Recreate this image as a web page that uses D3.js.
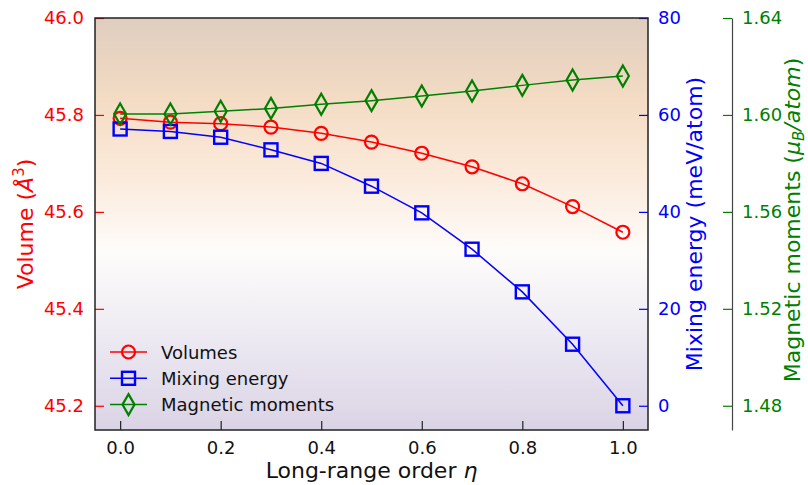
<!DOCTYPE html>
<html>
<head>
<meta charset="utf-8">
<script src="https://cdn.jsdelivr.net/npm/d3@7"></script>
<style>
  body { margin: 0; background: #fff; }
  svg text { font-family: "DejaVu Sans", sans-serif; }
</style>
</head>
<body>
<div id="chart"></div>
<script>
// Long-range order values (x)
const eta = [0.0, 0.1, 0.2, 0.3, 0.4, 0.5, 0.6, 0.7, 0.8, 0.9, 1.0];

// Volume (Å^3), left axis
const volumes = [45.793, 45.785, 45.782, 45.775, 45.762, 45.744, 45.721, 45.693, 45.658, 45.611, 45.558];

// Mixing energy (meV/atom), first right axis
const mixing = [57.1, 56.6, 55.4, 52.8, 50.0, 45.3, 39.8, 32.3, 23.5, 12.7, 0.0];

// Magnetic moments (muB/atom), second right axis
const moments = [1.6004, 1.6004, 1.6015, 1.6027, 1.6044, 1.6059, 1.6078, 1.6099, 1.6122, 1.6144, 1.6161];

const xTicks = [0.0, 0.2, 0.4, 0.6, 0.8, 1.0];
const volTicks = [45.2, 45.4, 45.6, 45.8, 46.0];
const mixTicks = [0, 20, 40, 60, 80];
const momTicks = [1.48, 1.52, 1.56, 1.60, 1.64];

const W = 808, H = 485;
const margin = { top: 18, right: 160, bottom: 55, left: 95 };
const innerW = W - margin.left - margin.right;   // 553
const innerH = H - margin.top - margin.bottom;   // 412

const svg = d3.select("#chart").append("svg")
    .attr("width", W).attr("height", H);

const defs = svg.append("defs");
const grad = defs.append("linearGradient")
    .attr("id", "bg").attr("x1", 0).attr("y1", 0).attr("x2", 0).attr("y2", 1);
[
    [0.00, "#dfcdbf"],
    [0.20, "#f4dcc4"],
    [0.38, "#fbeadb"],
    [0.57, "#fefcfa"],
    [0.76, "#eeebf3"],
    [1.00, "#dad3e5"]
].forEach(([o, c]) => grad.append("stop").attr("offset", o).attr("stop-color", c));

const g = svg.append("g").attr("transform", `translate(${margin.left},${margin.top})`);

g.append("rect").attr("width", innerW).attr("height", innerH).attr("fill", "url(#bg)");

// Scales
const x = d3.scaleLinear().domain([-0.05, 1.05]).range([0, innerW]);
const yVol = d3.scaleLinear().domain([45.15, 46.0]).range([innerH, 0]);
const yMix = d3.scaleLinear().domain([-5, 80]).range([innerH, 0]);
const yMom = d3.scaleLinear().domain([1.47, 1.64]).range([innerH, 0]);

const TICK = 9;
const FS = "18px";     // tick labels / legend
const LFS = "22px";    // axis labels

// X axis (ticks inward)
const xAxis = g.append("g").attr("transform", `translate(0,${innerH})`)
    .call(d3.axisBottom(x).tickValues(xTicks).tickFormat(d3.format(".1f"))
        .tickSizeInner(-TICK).tickSizeOuter(0).tickPadding(11));
xAxis.select(".domain").remove();
xAxis.selectAll("line").attr("stroke", "#222").attr("stroke-width", 1.2);
xAxis.selectAll("text").attr("fill", "#111").style("font-size", FS);

// Left axis: volume (red)
const lAxis = g.append("g")
    .call(d3.axisLeft(yVol).tickValues(volTicks).tickFormat(d3.format(".1f"))
        .tickSizeInner(-TICK).tickSizeOuter(0).tickPadding(11));
lAxis.select(".domain").remove();
lAxis.selectAll("line").attr("stroke", "red").attr("stroke-width", 1.2);
lAxis.selectAll("text").attr("fill", "red").style("font-size", FS);

// Right axis: mixing energy (blue)
const rAxis = g.append("g").attr("transform", `translate(${innerW},0)`)
    .call(d3.axisRight(yMix).tickValues(mixTicks)
        .tickSizeInner(-TICK).tickSizeOuter(0).tickPadding(10));
rAxis.select(".domain").remove();
rAxis.selectAll("line").attr("stroke", "blue").attr("stroke-width", 1.2);
rAxis.selectAll("text").attr("fill", "blue").style("font-size", FS);

// Third axis: magnetic moments (green), offset spine
const mAxis = g.append("g").attr("transform", `translate(${innerW + 84},0)`)
    .call(d3.axisRight(yMom).tickValues(momTicks).tickFormat(d3.format(".2f"))
        .tickSizeInner(-TICK).tickSizeOuter(0).tickPadding(10));
mAxis.select(".domain").attr("stroke", "#444").attr("stroke-width", 1.2);
mAxis.selectAll("line").attr("stroke", "green").attr("stroke-width", 1.2);
mAxis.selectAll("text").attr("fill", "green").style("font-size", FS);

// Frame
g.append("rect").attr("width", innerW).attr("height", innerH)
    .attr("fill", "none").attr("stroke", "#222").attr("stroke-width", 1.5);

// Series
const series = [
    { name: "Volumes",          vals: volumes, y: yVol, color: "red",   marker: "circle" },
    { name: "Mixing energy",    vals: mixing,  y: yMix, color: "blue",  marker: "square" },
    { name: "Magnetic moments", vals: moments, y: yMom, color: "green", marker: "diamond" }
];

function drawMarker(sel, type, color) {
    if (type === "circle") {
        sel.append("circle").attr("r", 6.5)
            .attr("fill", "none").attr("stroke", color).attr("stroke-width", 2.2);
    } else if (type === "square") {
        sel.append("rect").attr("x", -6.5).attr("y", -6.5).attr("width", 13).attr("height", 13)
            .attr("fill", "none").attr("stroke", color).attr("stroke-width", 2.4);
    } else {
        sel.append("path").attr("d", "M0,-10.5L6,0L0,10.5L-6,0Z")
            .attr("fill", "none").attr("stroke", color).attr("stroke-width", 2.2);
    }
}

series.forEach(s => {
    const line = d3.line().x((d, i) => x(eta[i])).y(d => s.y(d));
    g.append("path").datum(s.vals)
        .attr("d", line).attr("fill", "none")
        .attr("stroke", s.color).attr("stroke-width", 1.5);
    s.vals.forEach((v, i) => {
        const m = g.append("g").attr("transform", `translate(${x(eta[i])},${s.y(v)})`);
        drawMarker(m, s.marker, s.color);
    });
});

// Legend
const leg = g.append("g").attr("transform", `translate(15,${innerH - 78})`);
series.forEach((s, i) => {
    const row = leg.append("g").attr("transform", `translate(0,${i * 26.3})`);
    row.append("line").attr("x1", 0).attr("x2", 37).attr("y1", 0).attr("y2", 0)
        .attr("stroke", s.color).attr("stroke-width", 1.5);
    const m = row.append("g").attr("transform", "translate(18.5,0)");
    drawMarker(m, s.marker, s.color);
    row.append("text").attr("x", 51).attr("y", 6.5)
        .style("font-size", FS).attr("fill", "#111").text(s.name);
});

// Axis labels
const xl = svg.append("text")
    .attr("x", margin.left + x(0.5)).attr("y", 478)
    .attr("text-anchor", "middle").style("font-size", LFS).attr("fill", "#111");
xl.append("tspan").text("Long-range order ");
xl.append("tspan").style("font-style", "italic").text("η");

const vl = svg.append("text")
    .attr("transform", `translate(33,${margin.top + innerH / 2}) rotate(-90)`)
    .attr("text-anchor", "middle").style("font-size", LFS).attr("fill", "red");
vl.append("tspan").text("Volume (");
vl.append("tspan").style("font-style", "italic").text("Å");
vl.append("tspan").attr("dy", -9).style("font-size", "15px").text("3");
vl.append("tspan").attr("dy", 9).text(")");

svg.append("text")
    .attr("transform", `translate(702,${margin.top + innerH / 2}) rotate(-90)`)
    .attr("text-anchor", "middle").style("font-size", LFS).attr("fill", "blue")
    .text("Mixing energy (meV/atom)");

const ml = svg.append("text")
    .attr("transform", `translate(800,${margin.top + innerH / 2 - 4}) rotate(-90)`)
    .attr("text-anchor", "middle").style("font-size", LFS).attr("fill", "green");
ml.append("tspan").text("Magnetic moments (");
ml.append("tspan").style("font-style", "italic").text("μ");
ml.append("tspan").attr("dy", 4).style("font-size", "15px").style("font-style", "italic").text("B");
ml.append("tspan").attr("dy", -4).style("font-style", "italic").text("/atom");
ml.append("tspan").text(")");
</script>
</body>
</html>
